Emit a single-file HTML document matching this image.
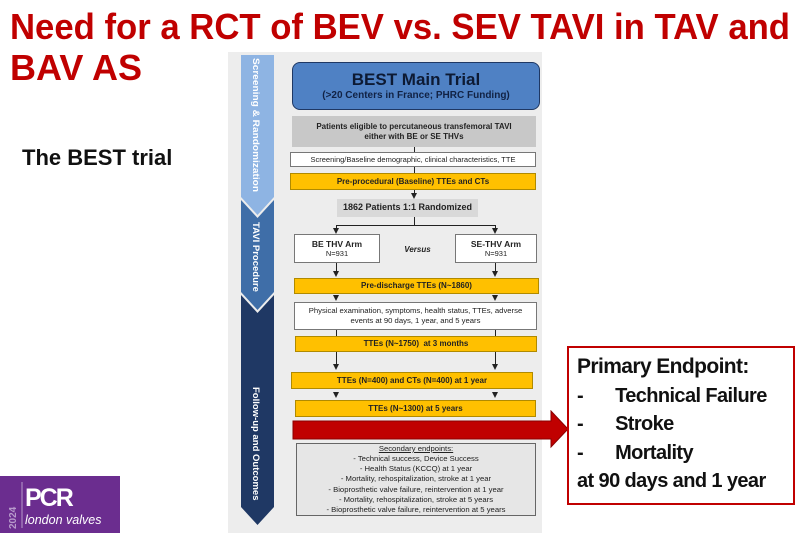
<!DOCTYPE html>
<html><head><meta charset="utf-8"><style>
*{margin:0;padding:0;box-sizing:border-box}
body{width:800px;height:533px;background:#fff;position:relative;overflow:hidden;font-family:"Liberation Sans",sans-serif}
.a{position:absolute}
.b{position:absolute;display:flex;align-items:center;justify-content:center;text-align:center;font-weight:bold;font-size:8px;color:#222;line-height:1.25}
.y{background:#ffc000;border:1px solid #b08a00}
.w{background:#fff;border:1px solid #777}
.ln{position:absolute;background:#222}
.ar{position:absolute;width:0;height:0;border-left:3.5px solid transparent;border-right:3.5px solid transparent;border-top:6px solid #222}
</style></head><body>
<svg class="a" style="left:0;top:0" width="800" height="100">
<text x="10" y="39" font-family="Liberation Sans" font-weight="bold" font-size="36" fill="#c00000" textLength="780" lengthAdjust="spacingAndGlyphs">Need for a RCT of BEV vs. SEV TAVI in TAV and</text>
<text x="10" y="80" font-family="Liberation Sans" font-weight="bold" font-size="36" fill="#c00000">BAV AS</text>
</svg>
<div class="a" style="left:22px;top:145px;font-size:22px;font-weight:bold;color:#111">The BEST trial</div>

<div class="a" style="left:228px;top:52px;width:314px;height:481px;background:#ededed"></div>
<svg class="a" style="left:228px;top:52px" width="60" height="481">
<polygon points="13,3 46,3 46,145 29.5,163 13,145" fill="#8eb4e3"/>
<polygon points="13,148 29.5,166 46,148 46,240 29.5,258 13,240" fill="#3f6ea8"/>
<polygon points="13,243 29.5,261 46,243 46,455 29.5,473 13,455" fill="#1f3864"/>
<text transform="translate(25,6) rotate(90)" font-family="Liberation Sans" font-weight="bold" font-size="9.5" fill="#fff" textLength="134" lengthAdjust="spacingAndGlyphs">Screening &amp; Randomization</text>
<text transform="translate(25,170) rotate(90)" font-family="Liberation Sans" font-weight="bold" font-size="9.5" fill="#fff">TAVI Procedure</text>
<text transform="translate(25,335) rotate(90)" font-family="Liberation Sans" font-weight="bold" font-size="9.5" fill="#fff">Follow-up and Outcomes</text>
</svg>

<div class="b" style="left:292px;top:62px;width:248px;height:48px;background:#4f81c4;border:1.5px solid #1f3864;border-radius:8px;flex-direction:column;color:#0d1a33">
<div style="font-size:17px">BEST Main Trial</div><div style="font-size:10px;color:#112244">(&gt;20 Centers in France; PHRC Funding)</div></div>
<div class="b" style="left:292px;top:116px;width:244px;height:31px;background:#c8c8c8">Patients eligible to percutaneous transfemoral TAVI<br>either with BE or SE THVs</div>
<div class="ln" style="left:414px;top:147px;width:1px;height:5px"></div>
<div class="b w" style="left:290px;top:152px;width:246px;height:15px;font-weight:normal;font-size:7.5px">Screening/Baseline demographic, clinical characteristics, TTE</div>
<div class="ln" style="left:414px;top:167px;width:1px;height:6px"></div>
<div class="b y" style="left:290px;top:173px;width:246px;height:17px">Pre-procedural (Baseline) TTEs and CTs</div>
<div class="ln" style="left:414px;top:190px;width:1px;height:4px"></div><div class="ar" style="left:411px;top:193px"></div>
<div class="b" style="left:337px;top:199px;width:141px;height:18px;background:#d9d9d9;font-size:9px">1862 Patients 1:1 Randomized</div>
<div class="ln" style="left:414px;top:217px;width:1px;height:8px"></div>
<div class="ln" style="left:336px;top:225px;width:160px;height:1px"></div>
<div class="ln" style="left:336px;top:225px;width:1px;height:4px"></div><div class="ar" style="left:333px;top:228px"></div>
<div class="ln" style="left:495px;top:225px;width:1px;height:4px"></div><div class="ar" style="left:492px;top:228px"></div>
<div class="b w" style="left:294px;top:234px;width:86px;height:29px;font-size:8.5px;flex-direction:column"><div>BE THV Arm</div><div style="font-weight:normal;font-size:7.5px">N=931</div></div>
<div class="b" style="left:395px;top:243px;width:45px;height:14px;font-style:italic">Versus</div>
<div class="b w" style="left:455px;top:234px;width:82px;height:29px;font-size:8.5px;flex-direction:column"><div>SE-THV Arm</div><div style="font-weight:normal;font-size:7.5px">N=931</div></div>
<div class="ln" style="left:336px;top:263px;width:1px;height:9px"></div><div class="ar" style="left:333px;top:271px"></div>
<div class="ln" style="left:495px;top:263px;width:1px;height:9px"></div><div class="ar" style="left:492px;top:271px"></div>
<div class="b y" style="left:294px;top:278px;width:245px;height:16px">Pre-discharge TTEs (N~1860)</div>
<div class="ar" style="left:333px;top:295px"></div><div class="ar" style="left:492px;top:295px"></div>
<div class="b w" style="left:294px;top:302px;width:243px;height:28px;font-weight:normal;font-size:7.7px">Physical examination, symptoms, health status, TTEs, adverse<br>events at 90 days, 1 year, and 5 years</div>
<div class="ln" style="left:336px;top:330px;width:1px;height:6px"></div><div class="ln" style="left:495px;top:330px;width:1px;height:6px"></div>
<div class="b y" style="left:295px;top:336px;width:242px;height:16px">TTEs (N~1750)&nbsp; at 3 months</div>
<div class="ln" style="left:336px;top:352px;width:1px;height:13px"></div><div class="ar" style="left:333px;top:364px"></div>
<div class="ln" style="left:495px;top:352px;width:1px;height:13px"></div><div class="ar" style="left:492px;top:364px"></div>
<div class="b y" style="left:291px;top:372px;width:242px;height:17px">TTEs (N=400) and CTs (N=400) at 1 year</div>
<div class="ar" style="left:333px;top:392px"></div><div class="ar" style="left:492px;top:392px"></div>
<div class="b y" style="left:295px;top:400px;width:241px;height:17px">TTEs (N~1300) at 5 years</div>
<svg class="a" style="left:292px;top:410px" width="280" height="40">
<polygon points="1,11 259,11 259,1 276,19 259,37 259,29 1,29" fill="#c00000" stroke="#8a0000" stroke-width="1"/>
</svg>
<div class="b" style="left:296px;top:443px;width:240px;height:73px;background:#e6e6e6;border:1px solid #666;flex-direction:column;font-weight:normal;font-size:7.7px;line-height:1.32">
<div style="text-decoration:underline">Secondary endpoints:</div>
<div>- Technical success, Device Success</div>
<div>- Health Status (KCCQ) at 1 year</div>
<div>- Mortality, rehospitalization, stroke at 1 year</div>
<div>- Bioprosthetic valve failure, reintervention at 1 year</div>
<div>- Mortality, rehospitalization, stroke at 5 years</div>
<div>- Bioprosthetic valve failure, reintervention at 5 years</div>
</div>

<div class="a" style="left:567px;top:346px;width:228px;height:159px;border:2px solid #c00000;background:#fff;font-weight:bold;font-size:20px;letter-spacing:-0.6px;color:#111;line-height:28.5px;padding:5px 0 0 8px;white-space:nowrap">
<div style="font-size:21px">Primary Endpoint:</div>
<div>-<span style="margin-left:32px">Technical Failure</span></div>
<div>-<span style="margin-left:32px">Stroke</span></div>
<div>-<span style="margin-left:32px">Mortality</span></div>
<div>at 90 days and 1 year</div>
</div>

<div class="a" style="left:0;top:476px;width:120px;height:57px;background:#6b2d8f"></div>
<svg class="a" style="left:0;top:476px" width="120" height="57">
<text transform="translate(16,53) rotate(-90)" font-family="Liberation Sans" font-weight="bold" font-size="10" fill="#b79acb">2024</text>
<line x1="22" y1="6" x2="22" y2="52" stroke="#b79acb" stroke-width="1"/>
<text x="25" y="30" font-family="Liberation Sans" font-weight="bold" font-size="25" fill="#fff" letter-spacing="-2">PCR</text>
<text x="25" y="48" font-family="Liberation Sans" font-style="italic" font-size="12.5" fill="#fff">london valves</text>
</svg>
</body></html>
